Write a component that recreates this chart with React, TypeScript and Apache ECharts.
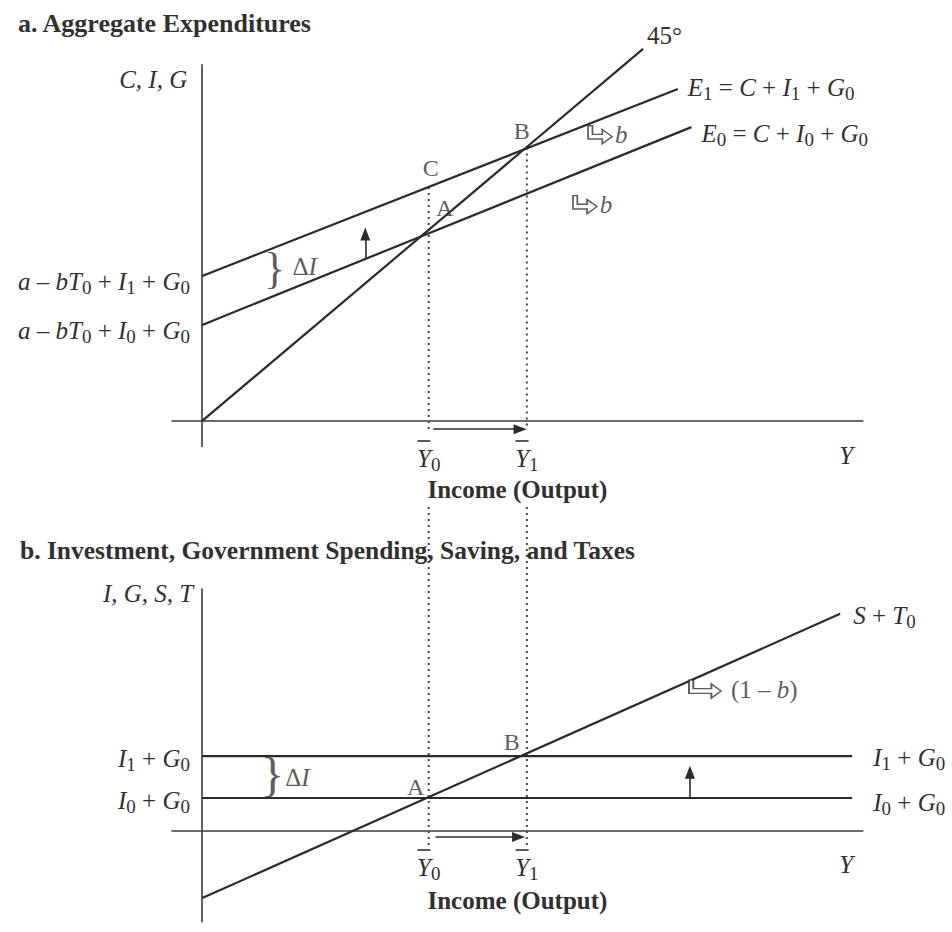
import React, { useEffect, useRef } from "react";
import * as echarts from "echarts";

// ---------- shared income axis ----------
const xRange = [-4, 87.5];
const Y0 = 30;
const Y1 = 43;
const Y_POS = 85.3;
const incomeTicks = [Y0, Y1, Y_POS];

// ---------- panel a : aggregate expenditures ----------
const aRange = [-4, 56];
const line45 = [[0, 0], [58.4, 58.5]];
const lineE1 = [[0, 22.8], [63, 52.2]];
const lineE0 = [[0, 15.1], [64.8, 46.2]];
const aIntercepts = [22.8, 15.1];
const aPointA = [Y0, 30];
const aPointB = [Y1, 43];
const aPointC = [Y0, 36.8];
const aDrop0 = [[Y0, 36.8], [Y0, -1.4]];
const aDrop1 = [[Y1, 43], [Y1, -1.4]];
const aIncomeArrow = [[30.6, -1.3], [42.1, -1.3]];
const aShiftArrow = [[21.6, 25.5], [21.6, 29.4]];
const aBrace = [9.6, 23.6];
const aSlopeE1 = [52.7, 45.0];
const aSlopeE0 = [50.7, 34.0];

// ---------- panel b : I, G, S, T ----------
const bRange = [-16.5, 44];
const lineI1G0 = [[0, 13.6], [86.1, 13.6]];
const lineI0G0 = [[0, 6.0], [86.1, 6.0]];
const lineST0 = [[0, -12.2], [84.5, 39.5]];
const bLevels = [13.6, 6.0];
const bPointA = [Y0, 6.0];
const bPointB = [Y1, 13.6];
const bDrop0 = [[Y0, 58.9], [Y0, -3.1]];
const bDrop1 = [[Y1, 58.9], [Y1, -3.1]];
const bIncomeArrow = [[30.9, -1.1], [41.9, -1.1]];
const bShiftArrow = [[64.6, 6.0], [64.6, 10.7]];
const bBrace = [9.3, 9.9];
const bSlopeST = [66.6, 25.8];

const SERIF = "'Liberation Serif', 'Times New Roman', serif";
const INK = "#2b2b2b";
const TXT = "#303030";
const AXIS = "#3c3c3c";

const R: any = {
  i: { fontFamily: SERIF, fontStyle: "italic", fontSize: 25, color: TXT },
  r: { fontFamily: SERIF, fontSize: 25, color: TXT },
  s: { fontFamily: SERIF, fontSize: 19, color: TXT, padding: [12, 0, 0, 0] },
};
const XR: any = {
  xi: { fontFamily: SERIF, fontStyle: "italic", fontSize: 25, color: TXT, align: "center" },
  xs: { fontFamily: SERIF, fontSize: 19, color: TXT, padding: [12, 0, 0, 0], align: "center" },
  bar: { width: 13, height: 1.6, lineHeight: 4, backgroundColor: TXT, align: "center" },
  sp: { width: 9.5, height: 1.6, lineHeight: 4, align: "center" },
  nb: { width: 13, height: 1.6, lineHeight: 4, align: "center" },
};

const txtE1 = "{i|E}{s|1}{r| = }{i|C}{r| + }{i|I}{s|1}{r| + }{i|G}{s|0}";
const txtE0 = "{i|E}{s|0}{r| = }{i|C}{r| + }{i|I}{s|0}{r| + }{i|G}{s|0}";
const txtInt1 = "{i|a}{r| – }{i|bT}{s|0}{r| + }{i|I}{s|1}{r| + }{i|G}{s|0}";
const txtInt0 = "{i|a}{r| – }{i|bT}{s|0}{r| + }{i|I}{s|0}{r| + }{i|G}{s|0}";
const txtI1 = "{i|I}{s|1}{r| + }{i|G}{s|0}";
const txtI0 = "{i|I}{s|0}{r| + }{i|G}{s|0}";
const txtST = "{i|S}{r| + }{i|T}{s|0}";

const incomeLabel = (v: number) => {
  if (v === Y0) return "{bar|}{sp|}\n{xi|Y}{xs|0}";
  if (v === Y1) return "{bar|}{sp|}\n{xi|Y}{xs|1}";
  return "{nb|}\n{xi|Y}";
};

const HOOK_A = "path://M0,0L4,0L4,9L13,9L13,4L22,11.5L13,19L13,14L0,14Z";
const HOOK_B = "path://M0,0L4,0L4,9L21,9L21,4L30,11.5L21,19L21,14L0,14Z";

function lineS(data: number[][], gi: number, extra: any = {}) {
  return {
    type: "line",
    data,
    xAxisIndex: gi,
    yAxisIndex: gi,
    symbol: "none",
    showSymbol: false,
    clip: false,
    silent: true,
    lineStyle: { color: INK, width: 2.2 },
    z: 3,
    ...extra,
  };
}

function endLbl(formatter: string, distance: number, offset: number[]) {
  return { show: true, formatter, rich: R, distance, offset, color: TXT };
}

function arrows(segs: number[][][]) {
  return {
    silent: true,
    symbol: ["none", "triangle"],
    symbolSize: [10, 13],
    lineStyle: { color: INK, width: 1.6, type: "solid" },
    label: { show: false },
    emphasis: { disabled: true },
    data: segs.map((s) => [{ coord: s[0] }, { coord: s[1] }]),
  };
}

function dotted(data: number[][], gi: number, extra: any = {}) {
  return lineS(data, gi, {
    lineStyle: { color: "#444", width: 2, type: [2, 4] },
    z: 2,
    ...extra,
  });
}

function xAxisOf(gi: number, margin: number, nameGap: number) {
  return {
    type: "value",
    gridIndex: gi,
    min: xRange[0],
    max: xRange[1],
    axisLine: { onZero: true, lineStyle: { color: AXIS, width: 1.6 } },
    axisTick: { show: false },
    splitLine: { show: false },
    axisLabel: {
      customValues: incomeTicks,
      formatter: incomeLabel,
      rich: XR,
      margin,
    },
    name: "Income (Output)",
    nameLocation: "middle",
    nameGap,
    nameMoveOverlap: false,
    nameTextStyle: { fontFamily: SERIF, fontWeight: "bold", fontSize: 25, color: TXT },
  };
}

export default function App() {
  const ref = useRef<HTMLDivElement>(null);
  useEffect(() => {
    if (!ref.current) return;
    const chart = echarts.init(ref.current, null, { renderer: "svg" });
    const labelBase = { show: true, position: "inside", fontFamily: SERIF, fontSize: 24, color: TXT };
    const option: any = {
      animation: false,
      backgroundColor: "#ffffff",
      title: [
        {
          text: "a. Aggregate Expenditures",
          left: 18,
          top: 10,
          padding: 0,
          textStyle: { fontFamily: SERIF, fontWeight: "bold", fontSize: 26, color: TXT },
        },
        {
          text: "b. Investment, Government Spending, Saving, and Taxes",
          left: 20,
          top: 537,
          padding: 0,
          textStyle: { fontFamily: SERIF, fontWeight: "bold", fontSize: 25.5, color: TXT },
        },
      ],
      grid: [
        { left: 172, top: 64.8, width: 690.8, height: 381.6, outerBoundsMode: "none", containLabel: false },
        { left: 172, top: 589, width: 690.8, height: 332.75, outerBoundsMode: "none", containLabel: false },
      ],
      xAxis: [xAxisOf(0, -7.4, 31), xAxisOf(1, -73.75, -34)],
      yAxis: [
        {
          type: "value",
          gridIndex: 0,
          min: aRange[0],
          max: aRange[1],
          axisLine: { onZero: true, lineStyle: { color: AXIS, width: 1.6 } },
          axisTick: { show: false },
          splitLine: { show: false },
          axisLabel: {
            customValues: aIntercepts,
            formatter: (v: number) => (v === aIntercepts[0] ? txtInt1 : txtInt0),
            rich: R,
            margin: -18,
            padding: [12, 0, 0, 0],
          },
          name: "C, I, G",
          nameLocation: "end",
          nameGap: -15,
          nameMoveOverlap: false,
          nameTextStyle: {
            fontFamily: SERIF,
            fontStyle: "italic",
            fontSize: 25,
            color: TXT,
            align: "right",
            verticalAlign: "middle",
            padding: [0, 15, 0, 0],
          },
        },
        {
          type: "value",
          gridIndex: 1,
          min: bRange[0],
          max: bRange[1],
          axisLine: { onZero: true, lineStyle: { color: AXIS, width: 1.6 } },
          axisTick: { show: false },
          splitLine: { show: false },
          axisLabel: {
            customValues: bLevels,
            formatter: (v: number) => (v === bLevels[0] ? txtI1 : txtI0),
            rich: R,
            margin: -18,
            padding: [4, 0, 0, 0],
          },
          name: "I, G, S, T",
          nameLocation: "end",
          nameGap: -4,
          nameMoveOverlap: false,
          nameTextStyle: {
            fontFamily: SERIF,
            fontStyle: "italic",
            fontSize: 25,
            color: TXT,
            align: "right",
            verticalAlign: "middle",
            padding: [0, 9, 0, 0],
          },
        },
      ],
      series: [
        // ----- panel a -----
        lineS(line45, 0, { endLabel: endLbl("{r|45°}", 4, [0, -13]) }),
        lineS(lineE1, 0, { endLabel: endLbl(txtE1, 10, [0, -1]) }),
        lineS(lineE0, 0, {
          endLabel: endLbl(txtE0, 10, [0, 6]),
          markLine: arrows([aIncomeArrow, aShiftArrow]),
        }),
        dotted(aDrop0, 0),
        dotted(aDrop1, 0),
        {
          type: "scatter",
          xAxisIndex: 0,
          yAxisIndex: 0,
          symbolSize: 1,
          silent: true,
          itemStyle: { color: "rgba(0,0,0,0)" },
          label: labelBase,
          data: [
            { value: aPointA, label: { formatter: "A", offset: [16, -22] } },
            { value: aPointB, label: { formatter: "B", offset: [-5, -16] } },
            { value: aPointC, label: { formatter: "C", offset: [2, -19] } },
            { value: aBrace, label: { formatter: "}", fontSize: 44, offset: [0, -2] } },
            {
              value: aBrace,
              label: { formatter: "{r|Δ}{i|I}", rich: R, offset: [30, -4] },
            },
          ],
          z: 4,
        },
        {
          type: "scatter",
          xAxisIndex: 0,
          yAxisIndex: 0,
          symbol: HOOK_A,
          symbolSize: [24, 18],
          silent: true,
          itemStyle: { color: "#ffffff", borderColor: "#333", borderWidth: 1.5 },
          label: { show: true, position: "right", distance: 2, formatter: "{i|b}", rich: R },
          data: [aSlopeE1, aSlopeE0],
          z: 4,
        },
        // ----- panel b -----
        lineS(lineST0, 1, { endLabel: endLbl(txtST, 13, [0, 2]) }),
        lineS(lineI1G0, 1, { endLabel: endLbl(txtI1, 21, [0, 1]) }),
        lineS(lineI0G0, 1, {
          endLabel: endLbl(txtI0, 21, [0, 4]),
          markLine: arrows([bIncomeArrow, bShiftArrow]),
        }),
        dotted(bDrop0, 1),
        dotted(bDrop1, 1),
        {
          type: "scatter",
          xAxisIndex: 1,
          yAxisIndex: 1,
          symbolSize: 1,
          silent: true,
          itemStyle: { color: "rgba(0,0,0,0)" },
          label: labelBase,
          data: [
            { value: bPointA, label: { formatter: "A", offset: [-13, -11] } },
            { value: bPointB, label: { formatter: "B", offset: [-15, -14] } },
            { value: bBrace, label: { formatter: "}", fontSize: 48, offset: [0, -2] } },
            {
              value: bBrace,
              label: { formatter: "{r|Δ}{i|I}", rich: R, offset: [25, 1] },
            },
          ],
          z: 4,
        },
        {
          type: "scatter",
          xAxisIndex: 1,
          yAxisIndex: 1,
          symbol: HOOK_B,
          symbolSize: [32, 18],
          silent: true,
          itemStyle: { color: "#ffffff", borderColor: "#333", borderWidth: 1.5 },
          label: {
            show: true,
            position: "right",
            distance: 9,
            formatter: "{r|(1 – }{i|b}{r|)}",
            rich: R,
          },
          data: [bSlopeST],
          z: 4,
        },
      ],
    };
    chart.setOption(option);
    return () => chart.dispose();
  }, []);
  return (
    <div
      ref={ref}
      style={{ position: "absolute", left: 0, top: 0, width: 952, height: 932, background: "#fff" }}
    />
  );
}
